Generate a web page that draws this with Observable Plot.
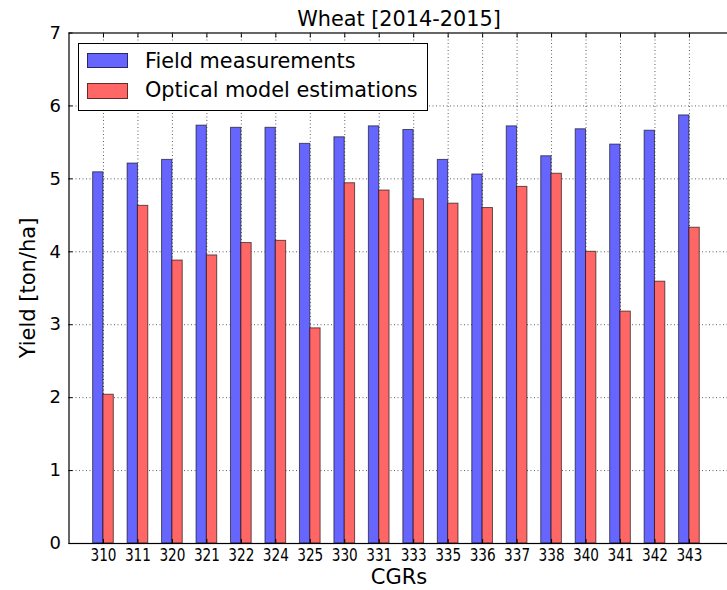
<!DOCTYPE html>
<html>
<head>
<meta charset="utf-8">
<script src="https://cdn.jsdelivr.net/npm/d3@7"></script>
<script src="https://cdn.jsdelivr.net/npm/@observablehq/plot@0.6"></script>
<style>
  html, body { margin: 0; padding: 0; background: #fff; }
  #wrap { position: relative; width: 727px; height: 590px; overflow: hidden; background: #fff;
          font-family: "DejaVu Sans", sans-serif; color: #000; }
  #chart { position: absolute; left: 0; top: 0; }
  .lbl { position: absolute; font-size: 21px; line-height: 21px; white-space: nowrap; }
  #title { left: 0; width: 798px; text-align: center; top: 8.8px; font-size: 20.8px; }
  #xlabel { left: 0; width: 798px; text-align: center; top: 566.5px; }
  #ylabel { left: 28px; top: 288px; transform: translate(-50%, -50%) rotate(-90deg); }
  #legend { position: absolute; left: 78px; top: 43px; width: 350px; height: 68px; box-sizing: border-box;
            border: 1px solid #000; background: #fff; }
  .sw { position: absolute; left: 8px; width: 41px; height: 15.5px; box-sizing: border-box;
        border: 1px solid rgba(0,0,0,0.6); }
  .lt { position: absolute; left: 66px; font-size: 20.8px; line-height: 20px; white-space: nowrap; }
</style>
</head>
<body>
<div id="wrap">
  <div id="chart"></div>
  <div id="title" class="lbl">Wheat [2014-2015]</div>
  <div id="xlabel" class="lbl">CGRs</div>
  <div id="ylabel" class="lbl">Yield [ton/ha]</div>
  <div id="legend">
    <div class="sw" style="top:8.7px; background:#6666ff;"></div>
    <div class="lt" style="top:6.6px;">Field measurements</div>
    <div class="sw" style="top:39.3px; background:#ff6666;"></div>
    <div class="lt" style="top:36.2px;">Optical model estimations</div>
  </div>
</div>
<script>
const categories = ["310","311","320","321","322","324","325","330","331","333","335","336","337","338","340","341","342","343"];
const fieldMeasurements = [5.09,5.21,5.26,5.73,5.70,5.70,5.48,5.57,5.72,5.67,5.26,5.06,5.72,5.31,5.68,5.47,5.66,5.87];
const opticalEstimations = [2.04,4.63,3.88,3.95,4.12,4.15,2.95,4.94,4.84,4.72,4.66,4.60,4.89,5.07,4.00,3.18,3.59,4.33];
const yTicks = [0,1,2,3,4,5,6,7];

const rows = categories.map((c, i) => ({i, cat: c, field: fieldMeasurements[i], optical: opticalEstimations[i]}));
const idx = categories.map((_, i) => i);
const W = 0.3;
const gridStyle = {stroke: "#000", strokeOpacity: 0.7, strokeWidth: 0.9, strokeDasharray: "1,2.5"};
const edge = {stroke: "#000", strokeOpacity: 0.6, strokeWidth: 1};

const plot = Plot.plot({
  width: 732,
  height: 590,
  marginLeft: 68.5,
  marginRight: 1.7,
  marginTop: 32.5,
  marginBottom: 47,
  style: {background: "transparent", maxWidth: "none", fontFamily: "DejaVu Sans, sans-serif", color: "#000", overflow: "visible"},
  x: {type: "linear", domain: [-1, 18.2]},
  y: {domain: [0, 7]},
  marks: [
    Plot.gridX(idx, gridStyle),
    Plot.gridY(yTicks.slice(1, -1), gridStyle),
    Plot.rectY(rows, {x1: d => d.i - W, x2: d => d.i, y1: 0, y2: "field", fill: "#6666ff", ...edge}),
    Plot.rectY(rows, {x1: d => d.i, x2: d => d.i + W, y1: 0, y2: "optical", fill: "#ff6666", ...edge}),
    Plot.frame({stroke: "#000", strokeWidth: 1.2}),
    Plot.axisX(idx, {anchor: "bottom", tickSize: -4, tickPadding: 9, fontSize: 17.5, tickFormat: i => categories[i], label: null}),
    Plot.axisX(idx, {anchor: "top", tickSize: -4, tickFormat: () => "", label: null}),
    Plot.axisY(yTicks, {anchor: "left", tickSize: -4, tickPadding: 12, fontSize: 18, tickFormat: d => String(d), label: null})
  ]
});
document.getElementById("chart").appendChild(plot);

d3.select(plot).selectAll('g[aria-label="x-axis tick label"] text')
  .filter(function () { return this.textContent.length > 0; })
  .attr("textLength", 26)
  .attr("lengthAdjust", "spacingAndGlyphs");
</script>
</body>
</html>
